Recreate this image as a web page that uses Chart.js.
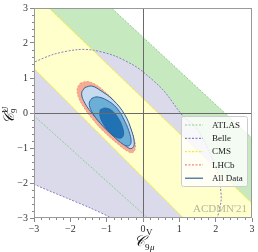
<!DOCTYPE html>
<html>
<head>
<meta charset="utf-8">
<script src="https://cdn.jsdelivr.net/npm/chart.js@4.4.1/dist/chart.umd.min.js"></script>
<style>
  html, body { margin: 0; padding: 0; background: #fff; }
</style>
</head>
<body>
<canvas id="chart" width="258" height="252"></canvas>
<script>
// tick values on both axes
const tickValues = [-3, -2, -1, 0, 1, 2, 3];
const legendLabels = ["ATLAS", "Belle", "CMS", "LHCb", "All Data"];

// bands (polygons run a bit past the axes, the plot clips them)
const atlasBand = [[-3.3, 0.2], [0.45, -3.3], [3.3, -3.3], [3.3, -1.01], [-1.18, 3.3], [-3.3, 3.3], [-3.3, 0.2]];
const cmsBand = [[-3.3, 1.58], [1.40, -3.3], [3.3, -3.3], [3.3, -2.88], [-2.89, 3.3], [-3.3, 3.3], [-3.3, 1.58]];
const belleRegion = [
  [-3.4, 1.25], [-3.0, 1.45], [-2.45, 1.68], [-1.81, 1.81], [-1.40, 1.80], [-0.80, 1.64],
  [-0.25, 1.36], [0.02, 1.16], [0.56, 0.65], [1.11, -0.10], [1.46, -0.41], [1.80, -1.05],
  [2.02, -1.60], [2.12, -2.05], [2.15, -2.49], [2.04, -3.0], [1.85, -3.4], [0.0, -3.6],
  [-0.86, -3.01], [-1.46, -2.71], [-2.10, -2.43], [-3.02, -2.02], [-3.5, -1.7], [-3.8, 0.0], [-3.4, 1.25]
];

// contours
const lhcbContour = [
  [-1.73, 0.85], [-1.55, 0.90], [-1.32, 0.82], [-1.05, 0.61], [-0.77, 0.32], [-0.54, -0.01],
  [-0.36, -0.38], [-0.24, -0.75], [-0.21, -0.99], [-0.28, -1.13], [-0.40, -1.11], [-0.63, -0.94],
  [-1.09, -0.52], [-1.41, -0.15], [-1.64, 0.18], [-1.78, 0.46], [-1.81, 0.70], [-1.73, 0.85]
];
const allData3s = [
  [-1.60, 0.73], [-1.41, 0.77], [-1.18, 0.65], [-0.82, 0.37], [-0.50, -0.05], [-0.31, -0.52],
  [-0.24, -0.85], [-0.28, -0.99], [-0.38, -1.01], [-0.63, -0.80], [-1.00, -0.47], [-1.37, -0.05],
  [-1.60, 0.28], [-1.69, 0.56], [-1.60, 0.73]
];
const allData2s = [
  [-1.41, 0.42], [-1.26, 0.46], [-1.00, 0.37], [-0.72, 0.14], [-0.50, -0.24], [-0.36, -0.61],
  [-0.33, -0.85], [-0.40, -0.94], [-0.54, -0.90], [-0.82, -0.66], [-1.18, -0.29], [-1.41, 0.04],
  [-1.48, 0.28], [-1.41, 0.42]
];
const allData1s = [
  [-1.18, 0.09], [-1.05, 0.14], [-0.86, 0.07], [-0.68, -0.15], [-0.56, -0.43], [-0.54, -0.64],
  [-0.63, -0.72], [-0.82, -0.64], [-1.05, -0.38], [-1.18, -0.10], [-1.18, 0.09]
];

const pts = arr => arr.map(p => ({ x: p[0], y: p[1] }));

const colors = {
  atlas: "#c7e9c0", atlasLine: "#8ccf8a",
  belle: "#dadaeb", belleLine: "#8580c0",
  cms: "#ffffcc", cmsLine: "#f5ea30",
  lhcb: "#f7ab93", lhcbLine: "#f08a78",
  blue3: "#c6dbef", blue2: "#6baed6", blue1: "#2171b5", blueLine: "#33649a"
};

function area(data, color, order, tension) {
  return { data: pts(data), showLine: true, pointRadius: 0, borderWidth: 0, backgroundColor: color,
    fill: "shape", tension: tension, order: order };
}
function edge(data, color, order, tension, dash) {
  return { data: pts(data), showLine: true, pointRadius: 0, borderWidth: 1, borderColor: color,
    borderDash: dash, fill: false, tension: tension, order: order };
}
function contour(data, color, line, order, dash, width) {
  return { data: pts(data), showLine: true, pointRadius: 0, borderWidth: width, borderColor: line,
    borderDash: dash, backgroundColor: color, fill: "shape", tension: 0.4, order: order };
}

const minus = v => (v < 0 ? "\u2212" + Math.abs(v) : String(v));

const decor = {
  id: "decor",
  afterDatasetsDraw(chart) {
    const { ctx, chartArea: a, scales: { x, y } } = chart;
    ctx.save();

    // zero lines
    ctx.strokeStyle = "#6a6a6a";
    ctx.lineWidth = 1;
    const x0 = Math.round(x.getPixelForValue(0)) + 0.5;
    const y0 = Math.round(y.getPixelForValue(0)) + 0.5;
    ctx.beginPath();
    ctx.moveTo(x0, a.top); ctx.lineTo(x0, a.bottom);
    ctx.moveTo(a.left, y0); ctx.lineTo(a.right, y0);
    ctx.stroke();

    // frame
    ctx.strokeStyle = "#999";
    ctx.strokeRect(a.left + 0.5, a.top + 0.5, a.right - a.left - 1, a.bottom - a.top - 1);

    // minor ticks
    ctx.strokeStyle = "#888";
    ctx.beginPath();
    for (let i = -15; i <= 15; i++) {
      if (i % 5 === 0) continue;
      const px = Math.round(x.getPixelForValue(i / 5)) + 0.5;
      const py = Math.round(y.getPixelForValue(i / 5)) + 0.5;
      ctx.moveTo(px, a.bottom); ctx.lineTo(px, a.bottom + 2);
      ctx.moveTo(a.left, py); ctx.lineTo(a.left - 2, py);
    }
    ctx.stroke();

    // watermark
    ctx.fillStyle = "rgba(150,150,140,0.7)";
    ctx.font = "11px 'Liberation Serif'";
    ctx.textBaseline = "alphabetic";
    ctx.fillText("ACDMN'21", 193, 212);

    // legend
    const lx = 181, ly = 116, lw = 66, lh = 70;
    ctx.fillStyle = "rgba(255,255,255,0.8)";
    ctx.strokeStyle = "#cccccc";
    ctx.beginPath();
    ctx.roundRect(lx + 0.5, ly + 0.5, lw, lh, 2);
    ctx.fill();
    ctx.stroke();
    const lineCols = [colors.atlasLine, colors.belleLine, colors.cmsLine, colors.lhcbLine, colors.blueLine];
    ctx.font = "9px 'Liberation Serif'";
    ctx.textBaseline = "middle";
    legendLabels.forEach((lab, i) => {
      const ry = ly + 9 + i * 13.3;
      ctx.strokeStyle = lineCols[i];
      ctx.lineWidth = 1.2;
      ctx.setLineDash(i < 4 ? [2, 1.5] : []);
      ctx.beginPath();
      ctx.moveTo(lx + 4, ry); ctx.lineTo(lx + 22, ry);
      ctx.stroke();
      ctx.fillStyle = "#222";
      ctx.fillText(lab, lx + 31, ry + 0.5);
    });
    ctx.setLineDash([]);

    // axis titles
    ctx.fillStyle = "#111";
    ctx.textBaseline = "alphabetic";
    ctx.font = "italic 15px 'DejaVu Serif'";
    ctx.fillText("\u{1D49E}", 134, 246);
    ctx.font = "9px 'Liberation Serif'";
    ctx.fillText("V", 146, 235);
    ctx.fillText("9", 145, 250);
    ctx.font = "italic 9px 'Liberation Serif'";
    ctx.fillText("\u03BC", 150, 250);

    ctx.translate(14, 112);
    ctx.rotate(-Math.PI / 2);
    ctx.font = "italic 15px 'DejaVu Serif'";
    ctx.fillText("\u{1D49E}", -12, 0);
    ctx.font = "9px 'Liberation Serif'";
    ctx.fillText("U", -1, -6);
    ctx.fillText("9", -1, 3);
    ctx.restore();
  }
};

new Chart(document.getElementById("chart").getContext("2d"), {
  type: "scatter",
  data: {
    datasets: [
      area(atlasBand, colors.atlas, 30, 0),
      area(belleRegion, colors.belle, 29, 0.3),
      area(cmsBand, colors.cms, 28, 0),
      edge(atlasBand, colors.atlasLine, 27, 0, [2, 1.5]),
      edge(belleRegion, colors.belleLine, 26, 0.3, [2, 1.5]),
      edge(cmsBand, colors.cmsLine, 25, 0, [3, 1]),
      contour(lhcbContour, colors.lhcb, colors.lhcbLine, 24, [2, 1.5], 0.8),
      contour(allData3s, colors.blue3, colors.blueLine, 23, [], 1),
      contour(allData2s, colors.blue2, colors.blueLine, 22, [], 1),
      contour(allData1s, colors.blue1, colors.blueLine, 21, [], 1)
    ]
  },
  options: {
    responsive: false,
    animation: false,
    devicePixelRatio: 1,
    layout: { padding: { top: 5, right: 6, left: 0, bottom: 0 } },
    plugins: { legend: { display: false }, tooltip: { enabled: false } },
    scales: {
      x: {
        type: "linear", min: -3, max: 3,
        afterFit: s => { s.height = 34; },
        afterBuildTicks: s => { s.ticks = tickValues.map(v => ({ value: v })); },
        grid: { drawOnChartArea: false, tickLength: 4, color: "#888" },
        border: { display: false },
        ticks: { callback: minus, padding: 1, color: "#333", maxRotation: 0,
          font: { family: "'Liberation Serif'", size: 10 } }
      },
      y: {
        type: "linear", min: -3, max: 3,
        afterFit: s => { s.width = 34; },
        afterBuildTicks: s => { s.ticks = tickValues.map(v => ({ value: v })); },
        grid: { drawOnChartArea: false, tickLength: 4, color: "#888" },
        border: { display: false },
        ticks: { callback: minus, padding: 2, color: "#333",
          font: { family: "'Liberation Serif'", size: 10 } }
      }
    }
  },
  plugins: [decor]
});
</script>
</body>
</html>
